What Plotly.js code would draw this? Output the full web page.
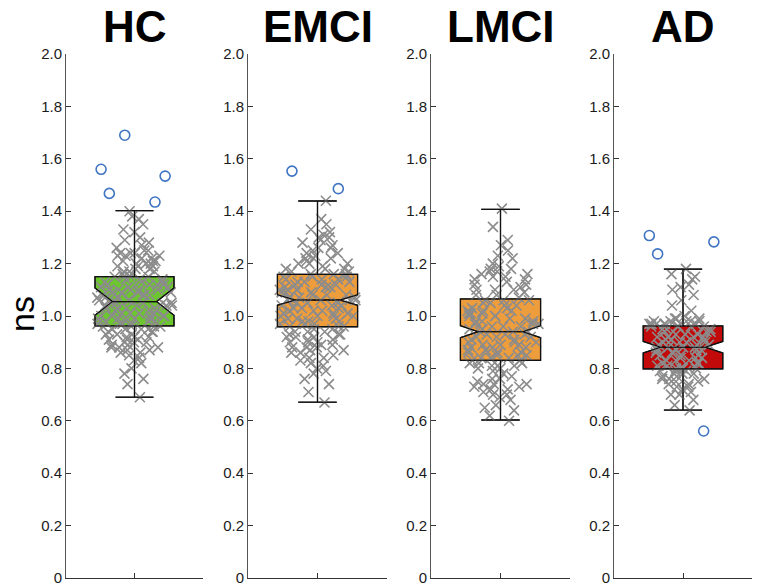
<!DOCTYPE html>
<html>
<head>
<meta charset="utf-8">
<script src="https://cdn.plot.ly/plotly-3.0.1.min.js"></script>
<style>html,body{margin:0;padding:0;background:#fff;}#chart{width:757px;height:587px;}</style>
</head>
<body>
<div id="chart"></div>
<script>
// ---- data ----
const groups = ["HC", "EMCI", "LMCI", "AD"];
const boxFills = ["#6cc72e", "#ee9d3d", "#ee9d3d", "#c20a0a"];

const q1Vals     = [0.962, 0.959, 0.831, 0.798];
const medianVals = [1.055, 1.061, 0.940, 0.881];
const q3Vals     = [1.150, 1.159, 1.065, 0.962];
const lowerVals  = [0.690, 0.671, 0.603, 0.641];
const upperVals  = [1.402, 1.439, 1.407, 1.179];
const notchVals  = [0.052, 0.020, 0.023, 0.022];

const hcPoints = [0.69,0.74,0.76,0.78,0.80,0.82,0.83,0.84,0.85,0.86,0.87,0.87,0.88,0.88,0.89,0.89,0.90,0.90,0.91,0.91,0.92,0.92,0.93,0.93,0.94,0.94,0.95,0.95,0.95,0.96,0.96,0.96,0.97,0.97,0.97,0.98,0.98,0.98,0.99,0.99,0.99,1.00,1.00,1.00,1.01,1.01,1.01,1.02,1.02,1.03,1.03,1.03,1.04,1.04,1.04,1.05,1.05,1.05,1.06,1.06,1.06,1.07,1.07,1.07,1.08,1.08,1.08,1.09,1.09,1.09,1.10,1.10,1.10,1.11,1.11,1.12,1.12,1.12,1.13,1.13,1.14,1.14,1.15,1.15,1.16,1.16,1.17,1.17,1.18,1.18,1.19,1.19,1.20,1.20,1.21,1.21,1.22,1.22,1.23,1.23,1.24,1.24,1.25,1.26,1.28,1.29,1.30,1.32,1.33,1.35,1.37,1.38,1.40,
  0.86,0.90,0.92,0.94,0.96,0.97,0.98,0.99,1.00,1.01,1.02,1.03,1.04,1.05,1.06,1.07,1.08,1.09,1.10,1.11,1.12,1.13,1.14,1.15,1.17,1.19,1.21,1.23,1.24,1.25,1.27,0.93,0.95,1.00,1.05,1.10,1.15,1.20,0.88,0.91];
const emciPoints = [0.67,0.71,0.74,0.76,0.78,0.79,0.80,0.81,0.82,0.83,0.84,0.85,0.86,0.86,0.87,0.87,0.88,0.88,0.89,0.89,0.90,0.90,0.91,0.91,0.92,0.92,0.93,0.93,0.94,0.94,0.95,0.95,0.96,0.96,0.97,0.97,0.98,0.98,0.99,0.99,1.00,1.00,1.00,1.01,1.01,1.02,1.02,1.03,1.03,1.04,1.04,1.05,1.05,1.06,1.06,1.06,1.07,1.07,1.08,1.08,1.09,1.09,1.10,1.10,1.10,1.11,1.11,1.12,1.12,1.13,1.13,1.14,1.14,1.15,1.15,1.16,1.16,1.17,1.17,1.18,1.18,1.19,1.20,1.20,1.21,1.22,1.22,1.23,1.24,1.25,1.26,1.27,1.28,1.29,1.30,1.31,1.33,1.35,1.37,1.44,
  0.84,0.88,0.90,0.92,0.94,0.96,0.98,1.00,1.02,1.04,1.05,1.07,1.08,1.09,1.11,1.12,1.13,1.14,1.16,1.18,1.20,1.22,1.24,1.26,1.30,1.32,0.97,1.01,1.03,1.06,1.10,1.15,0.93,0.99];
const lmciPoints = [0.60,0.62,0.64,0.65,0.66,0.68,0.69,0.70,0.71,0.72,0.72,0.73,0.73,0.74,0.74,0.75,0.76,0.77,0.78,0.79,0.80,0.81,0.81,0.82,0.82,0.83,0.83,0.84,0.84,0.85,0.85,0.86,0.86,0.87,0.87,0.88,0.88,0.89,0.89,0.90,0.90,0.91,0.91,0.92,0.92,0.93,0.93,0.94,0.94,0.95,0.95,0.96,0.96,0.97,0.97,0.98,0.98,0.99,0.99,1.00,1.00,1.01,1.01,1.02,1.02,1.03,1.03,1.04,1.05,1.05,1.06,1.06,1.07,1.08,1.09,1.10,1.10,1.11,1.12,1.13,1.14,1.15,1.15,1.16,1.17,1.17,1.18,1.19,1.20,1.22,1.23,1.25,1.27,1.29,1.34,1.41,
  0.70,0.74,0.76,0.80,0.82,0.84,0.86,0.88,0.90,0.92,0.94,0.96,0.98,1.00,1.02,1.04,1.06,1.08,1.10,1.12,1.14,1.16,1.18,0.85,0.89,0.93,0.97,1.01,0.81,0.87];
const adPoints = [0.64,0.66,0.68,0.70,0.71,0.72,0.73,0.74,0.74,0.75,0.75,0.76,0.76,0.77,0.77,0.78,0.78,0.79,0.79,0.80,0.80,0.80,0.81,0.81,0.82,0.82,0.83,0.83,0.84,0.84,0.85,0.85,0.86,0.86,0.87,0.87,0.87,0.88,0.88,0.88,0.89,0.89,0.90,0.90,0.90,0.91,0.91,0.92,0.92,0.93,0.93,0.94,0.94,0.95,0.95,0.96,0.96,0.96,0.97,0.97,0.97,0.97,0.98,0.98,0.98,0.99,0.99,1.00,1.02,1.04,1.06,1.08,1.10,1.12,1.14,1.16,1.18,
  0.70,0.73,0.76,0.78,0.80,0.82,0.84,0.85,0.86,0.88,0.89,0.90,0.91,0.92,0.93,0.94,0.95,0.96,0.97,0.97,0.98,0.98,0.99,0.96,0.92,0.87,0.83,0.79,1.11,1.15];
const groupPoints = [hcPoints, emciPoints, lmciPoints, adPoints];

const hcOutliers = [1.435, 1.468, 1.690, 1.560, 1.534];
const emciOutliers = [1.553, 1.486];
const lmciOutliers = [];
const adOutliers = [1.237, 1.283, 1.307, 0.561];
const groupOutliers = [hcOutliers, emciOutliers, lmciOutliers, adOutliers];

const yTickVals = [0, 0.2, 0.4, 0.6, 0.8, 1.0, 1.2, 1.4, 1.6, 1.8, 2.0];
const yTickText = ["0", "0.2", "0.4", "0.6", "0.8", "1.0", "1.2", "1.4", "1.6", "1.8", "2.0"];

// ---- layout geometry ----
const W = 757, H = 587;
const xDomainsPx = [[66, 203], [248, 387], [431, 570], [614, 752]];
const yDomain = [(H - 578) / H, (H - 54) / H];
const FONT = "Liberation Sans, Arial, Helvetica, sans-serif";

const traces = [];
const layout = {
  width: W, height: H,
  margin: {l: 0, r: 0, t: 0, b: 0},
  paper_bgcolor: "#fff", plot_bgcolor: "#fff",
  showlegend: false,
  boxmode: "overlay",
  font: {family: FONT, color: "#1a1a1a", size: 15},
  annotations: []
};

groups.forEach((g, i) => {
  const xa = i === 0 ? "x" : "x" + (i + 1);
  const ya = i === 0 ? "y" : "y" + (i + 1);
  const xKey = i === 0 ? "xaxis" : "xaxis" + (i + 1);
  const yKey = i === 0 ? "yaxis" : "yaxis" + (i + 1);

  const statBox = {
    type: "box", x: [1], xaxis: xa, yaxis: ya,
    q1: [q1Vals[i]], median: [medianVals[i]], q3: [q3Vals[i]],
    lowerfence: [lowerVals[i]], upperfence: [upperVals[i]],
    notched: true, notchspan: [notchVals[i]], notchwidth: 0.22,
    width: 0.5, whiskerwidth: 0.48,
    boxpoints: false, hoverinfo: "skip"
  };
  traces.push(Object.assign({}, statBox, {
    fillcolor: boxFills[i], line: {color: "#111", width: 1.3}
  }));
  traces.push({
    type: "box", x: groupPoints[i].map(() => 1), y: groupPoints[i],
    xaxis: xa, yaxis: ya, width: 0.5,
    boxpoints: "all", jitter: 0.95, pointpos: 0,
    fillcolor: "rgba(0,0,0,0)", line: {color: "rgba(0,0,0,0)", width: 0},
    whiskerwidth: 0,
    marker: {symbol: "x-thin", size: 10, color: "rgb(140,140,140)",
             line: {color: "rgb(140,140,140)", width: 1.6}},
    hoverinfo: "y"
  });
  traces.push(Object.assign({}, statBox, {
    fillcolor: "rgba(0,0,0,0)", line: {color: "#111", width: 1.1}
  }));
  if (groupOutliers[i].length) {
    traces.push({
      type: "box", x: groupOutliers[i].map(() => 1), y: groupOutliers[i],
      xaxis: xa, yaxis: ya, width: 0.5,
      boxpoints: "all", jitter: 1.0, pointpos: 0,
      fillcolor: "rgba(0,0,0,0)", line: {color: "rgba(0,0,0,0)", width: 0},
      whiskerwidth: 0,
      marker: {symbol: "circle-open", size: 10, color: "#3f74c2",
               line: {color: "#3f74c2", width: 1.6}},
      hoverinfo: "y"
    });
  }

  layout[xKey] = {
    domain: [xDomainsPx[i][0] / W, xDomainsPx[i][1] / W],
    anchor: ya,
    range: [0.5665, 1.4335],
    tickvals: [1], ticktext: [""],
    ticks: "inside", ticklen: 5, tickcolor: "#333",
    showline: true, linecolor: "#333", linewidth: 1,
    showgrid: false, zeroline: false, fixedrange: true
  };
  layout[yKey] = {
    domain: yDomain,
    anchor: xa,
    range: [0, 2],
    tickvals: yTickVals, ticktext: yTickText,
    ticks: "inside", ticklen: 5, tickcolor: "#333",
    tickfont: {family: FONT, size: 15, color: "#1a1a1a"},
    showline: true, linecolor: "#555", linewidth: 1,
    showgrid: false, zeroline: false, fixedrange: true
  };

  layout.annotations.push({
    text: "<b>" + g + "</b>", xref: xa, yref: "paper",
    x: 1, y: 1, xanchor: "center", yanchor: "top",
    showarrow: false,
    font: {family: FONT, size: 44, color: "#000"}
  });
});

layout.annotations.push({
  text: "ns", xref: "paper", yref: "paper",
  x: 22 / W, y: (H - 314) / H, xanchor: "center", yanchor: "middle",
  textangle: -90, showarrow: false,
  font: {family: FONT, size: 34, color: "#000"}
});

Plotly.newPlot("chart", traces, layout, {displayModeBar: false, staticPlot: true});
</script>
</body>
</html>
